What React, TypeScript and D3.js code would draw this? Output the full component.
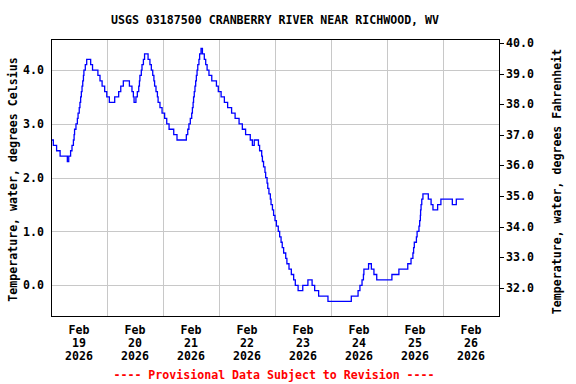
import React, { useEffect, useRef } from "react";
import * as d3 from "d3";

// Water temperature, USGS 03187500, read off the reference as step change points
// hours since Feb 19 2026 00:00, value in degrees C from that hour on
const stepHours = [
  0, 1.0, 2.4, 3.9, 7.0, 7.6, 8.4, 9.0, 9.6, 9.9, 10.1, 10.7, 11.3, 11.6, 12.1, 12.4, 12.7, 13.0, 13.3, 13.6,
  13.9, 14.1, 14.7, 15.3, 17.0, 17.8, 20.1, 21.0, 21.9, 23.0, 23.9, 25.0, 27.3, 29.0, 29.9, 31.0, 33.6, 34.7,
  35.3, 35.6, 36.4, 37.0, 37.6, 37.9, 38.1, 38.7, 39.0, 39.6, 40.1, 41.6, 42.4, 43.0, 43.6, 44.1, 44.4, 45.0,
  45.6, 45.9, 46.7, 47.6, 48.7, 49.6, 50.6, 52.6, 54.0, 58.0, 58.6, 59.1, 59.7, 60.3, 60.6, 60.9, 61.1, 61.4,
  61.7, 62.0, 62.3, 62.6, 62.9, 63.4, 63.7, 64.3, 64.9, 65.7, 66.3, 66.9, 67.7, 68.9, 70.9, 71.7, 72.9, 74.3,
  75.7, 77.4, 78.9, 80.6, 82.0, 83.4, 85.4, 86.3, 87.1, 88.9, 89.4, 90.3, 90.6, 91.1, 91.7, 92.0, 92.6, 92.9,
  93.4, 94.0, 94.3, 94.9, 95.4, 96.0, 96.6, 97.4, 98.0, 98.6, 99.1, 99.7, 100.6, 101.1, 102.0, 103.0, 104.0,
  104.7, 105.9, 107.9, 110.1, 111.9, 113.0, 114.7, 118.7, 128.7, 131.6, 132.4, 133.3, 133.9, 134.1, 136.1,
  137.3, 138.4, 139.6, 146.1, 149.1, 152.9, 154.3, 155.1, 155.4, 155.7, 156.6, 156.9, 157.7, 158.0, 158.3,
  158.4, 158.6, 158.9, 159.4, 161.7, 162.9, 163.7, 165.7, 167.1, 172.0, 173.7, 176.9,
];
const stepTempsC = [
  2.7, 2.6, 2.5, 2.4, 2.3, 2.4, 2.5, 2.6, 2.7, 2.8, 2.9, 3.0, 3.1, 3.2, 3.3, 3.4, 3.5, 3.6, 3.7, 3.8,
  3.9, 4.0, 4.1, 4.2, 4.1, 4.0, 3.9, 3.8, 3.7, 3.6, 3.5, 3.4, 3.5, 3.6, 3.7, 3.8, 3.7, 3.6,
  3.5, 3.4, 3.5, 3.6, 3.7, 3.8, 3.9, 4.0, 4.1, 4.2, 4.3, 4.2, 4.1, 4.0, 3.9, 3.8, 3.7, 3.6,
  3.5, 3.4, 3.3, 3.2, 3.1, 3.0, 2.9, 2.8, 2.7, 2.8, 2.9, 3.0, 3.1, 3.2, 3.3, 3.4, 3.5, 3.6,
  3.7, 3.8, 3.9, 4.0, 4.1, 4.2, 4.3, 4.4, 4.3, 4.2, 4.1, 4.0, 3.9, 3.8, 3.7, 3.6, 3.5, 3.4,
  3.3, 3.2, 3.1, 3.0, 2.9, 2.8, 2.7, 2.6, 2.7, 2.6, 2.5, 2.4, 2.3, 2.2, 2.1, 2.0, 1.9, 1.8,
  1.7, 1.6, 1.5, 1.4, 1.3, 1.2, 1.1, 1.0, 0.9, 0.8, 0.7, 0.6, 0.5, 0.4, 0.3, 0.2, 0.1,
  0.0, -0.1, 0.0, 0.1, 0.0, -0.1, -0.2, -0.3, -0.2, -0.1, 0.0, 0.1, 0.2, 0.3, 0.4,
  0.3, 0.2, 0.1, 0.2, 0.3, 0.4, 0.5, 0.6, 0.7, 0.8, 0.9, 1.0, 1.1, 1.2, 1.3,
  1.4, 1.5, 1.6, 1.7, 1.6, 1.5, 1.4, 1.5, 1.6, 1.5, 1.6, 1.6,
];

const dayNumbers = [19, 20, 21, 22, 23, 24, 25, 26];
const celsiusTicks = [0, 1, 2, 3, 4];
const fahrenheitTicks = [32, 33, 34, 35, 36, 37, 38, 39, 40];

const FONT = "'DejaVu Sans Mono', monospace";

const App = () => {
  const svgRef = useRef<SVGSVGElement>(null);

  useEffect(() => {
    const width = 576;
    const height = 384;
    const plot = { left: 51, right: 499, top: 39, bottom: 316 };

    const svg = d3.select(svgRef.current);
    svg.selectAll("*").remove();

    const start = new Date(2026, 1, 19);
    const end = new Date(2026, 1, 27);
    const hourDate = (h: number) => new Date(start.getTime() + h * 3600 * 1000);

    const x = d3.scaleTime().domain([start, end]).range([plot.left, plot.right]);
    const y = d3.scaleLinear().domain([-0.571, 4.577]).range([plot.bottom, plot.top]);
    const yF = d3.scaleLinear().domain([31.07, 40.14]).range([plot.bottom, plot.top]);

    const text = (sel: any) =>
      sel.attr("font-family", FONT).attr("font-weight", "bold").attr("font-size", 11.6).attr("fill", "#000");

    // grid
    const days = d3.timeDay.range(d3.timeDay.offset(start, 1), end);
    svg.append("g")
      .selectAll("line")
      .data(days)
      .join("line")
      .attr("x1", d => Math.round(x(d)) + 0.5)
      .attr("x2", d => Math.round(x(d)) + 0.5)
      .attr("y1", plot.top)
      .attr("y2", plot.bottom)
      .attr("stroke", "#c8c8c8");

    svg.append("g")
      .selectAll("line")
      .data(celsiusTicks)
      .join("line")
      .attr("x1", plot.left)
      .attr("x2", plot.right)
      .attr("y1", d => Math.round(y(d)) + 0.5)
      .attr("y2", d => Math.round(y(d)) + 0.5)
      .attr("stroke", "#c8c8c8");

    // temperature trace
    const line = d3.line<number>()
      .x((h) => x(hourDate(h)))
      .y((_, i) => y(stepTempsC[i]))
      .curve(d3.curveStepAfter);

    svg.append("path")
      .datum(stepHours)
      .attr("d", line)
      .attr("fill", "none")
      .attr("stroke", "#0000ff")
      .attr("stroke-width", 1.3);

    // frame
    svg.append("rect")
      .attr("x", plot.left + 0.5)
      .attr("y", plot.top + 0.5)
      .attr("width", plot.right - plot.left)
      .attr("height", plot.bottom - plot.top)
      .attr("fill", "none")
      .attr("stroke", "#000");

    // left axis labels
    svg.append("g")
      .selectAll("text")
      .data(celsiusTicks)
      .join("text")
      .call(text)
      .attr("x", 44)
      .attr("y", d => y(d))
      .attr("dy", "0.35em")
      .attr("text-anchor", "end")
      .text(d => d3.format(".1f")(d));

    // right axis ticks and labels
    svg.append("g")
      .selectAll("line")
      .data(fahrenheitTicks)
      .join("line")
      .attr("x1", plot.right)
      .attr("x2", plot.right + 5)
      .attr("y1", d => Math.round(yF(d)) + 0.5)
      .attr("y2", d => Math.round(yF(d)) + 0.5)
      .attr("stroke", "#000");

    svg.append("g")
      .selectAll("text")
      .data(fahrenheitTicks)
      .join("text")
      .call(text)
      .attr("x", 506)
      .attr("y", d => yF(d))
      .attr("dy", "0.35em")
      .text(d => d3.format(".1f")(d));

    // date labels, centred on each day
    const dateG = svg.append("g")
      .selectAll("text")
      .data(dayNumbers)
      .join("text")
      .call(text)
      .attr("text-anchor", "middle");
    dateG.each(function (d) {
      const cx = x(new Date(2026, 1, d, 12));
      const t = d3.select(this);
      ["Feb", String(d), "2026"].forEach((s, i) => {
        t.append("tspan").attr("x", cx).attr("y", 334 + i * 13).text(s);
      });
    });

    // titles
    svg.append("text")
      .call(text)
      .attr("x", (plot.left + plot.right) / 2)
      .attr("y", 24)
      .attr("text-anchor", "middle")
      .text("USGS 03187500 CRANBERRY RIVER NEAR RICHWOOD, WV");

    svg.append("text")
      .call(text)
      .attr("transform", `translate(17,${(plot.top + plot.bottom) / 2 + 2}) rotate(-90)`)
      .attr("text-anchor", "middle")
      .text("Temperature, water, degrees Celsius");

    svg.append("text")
      .call(text)
      .attr("transform", `translate(561,${(plot.top + plot.bottom) / 2 + 4}) rotate(-90)`)
      .attr("text-anchor", "middle")
      .text("Temperature, water, degrees Fahrenheit");

    svg.append("text")
      .call(text)
      .attr("fill", "#ff0000")
      .attr("x", 274)
      .attr("y", 379)
      .attr("text-anchor", "middle")
      .text("---- Provisional Data Subject to Revision ----");

    svg.attr("width", width).attr("height", height);
  }, []);

  return (
    <svg
      ref={svgRef}
      width={576}
      height={384}
      style={{ position: "absolute", left: 0, top: 0, background: "#fff" }}
    ></svg>
  );
};

export default App;
